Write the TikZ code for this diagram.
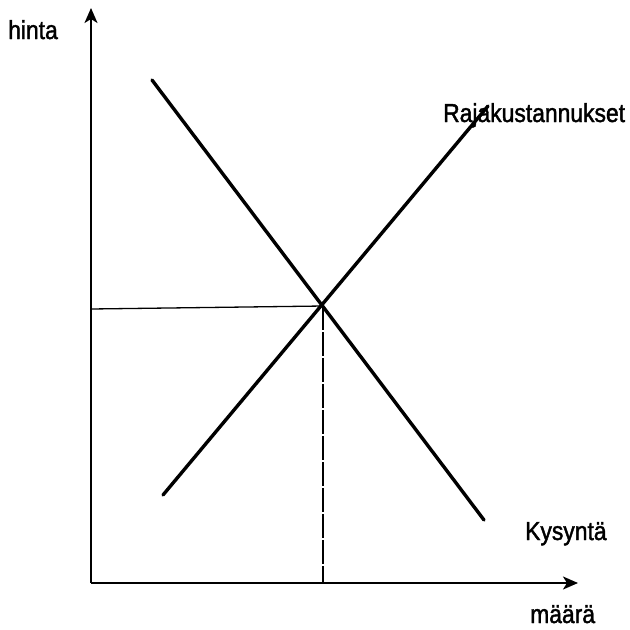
\documentclass[tikz,border=0pt]{standalone}
\usepackage{fontspec}
\setmainfont[FakeStretch=0.88,FakeBold=1.6]{Liberation Sans}
\usetikzlibrary{arrows.meta}
\begin{document}
\begin{tikzpicture}[x=1pt,y=-1pt,
  axis/.style={line width=1.9pt,-{Stealth[length=15pt,width=13pt,inset=4pt]}},
  curve/.style={line width=3.4pt,line cap=round},
  guide/.style={line width=1.3pt},
  lbl/.style={font=\fontsize{26}{30}\selectfont,inner sep=0pt,anchor=base west}]
\useasboundingbox (0,0) rectangle (630,630);
\coordinate (O) at (91,583);
\coordinate (ytip) at (91,8);
\coordinate (xtip) at (578,583);
\draw[axis] (O) -- (ytip);
\draw[axis] (O) -- (xtip);
\coordinate (d1) at (152,80);
\coordinate (d2) at (484,520);
\coordinate (s1) at (163,495);
\coordinate (s2) at (488,106);
\coordinate (E) at (323,306);
\coordinate (yE) at (91,309);
\coordinate (xE) at (323,583);
\draw[curve] (d1) -- (d2);
\draw[curve] (s1) -- (s2);
\draw[guide] (yE) -- (E);
\draw[guide,line width=1.6pt,dash pattern=on 24pt off 2pt] (E) -- (xE);
\node[lbl] (hinta) at (8,39) {hinta};
\node[lbl] (raja) at (443,122) {Rajakustannukset};
\node[lbl] (kys) at (525,540) {Kysyntä};
\node[lbl] (maara) at (530,623) {määrä};
\end{tikzpicture}
\end{document}
